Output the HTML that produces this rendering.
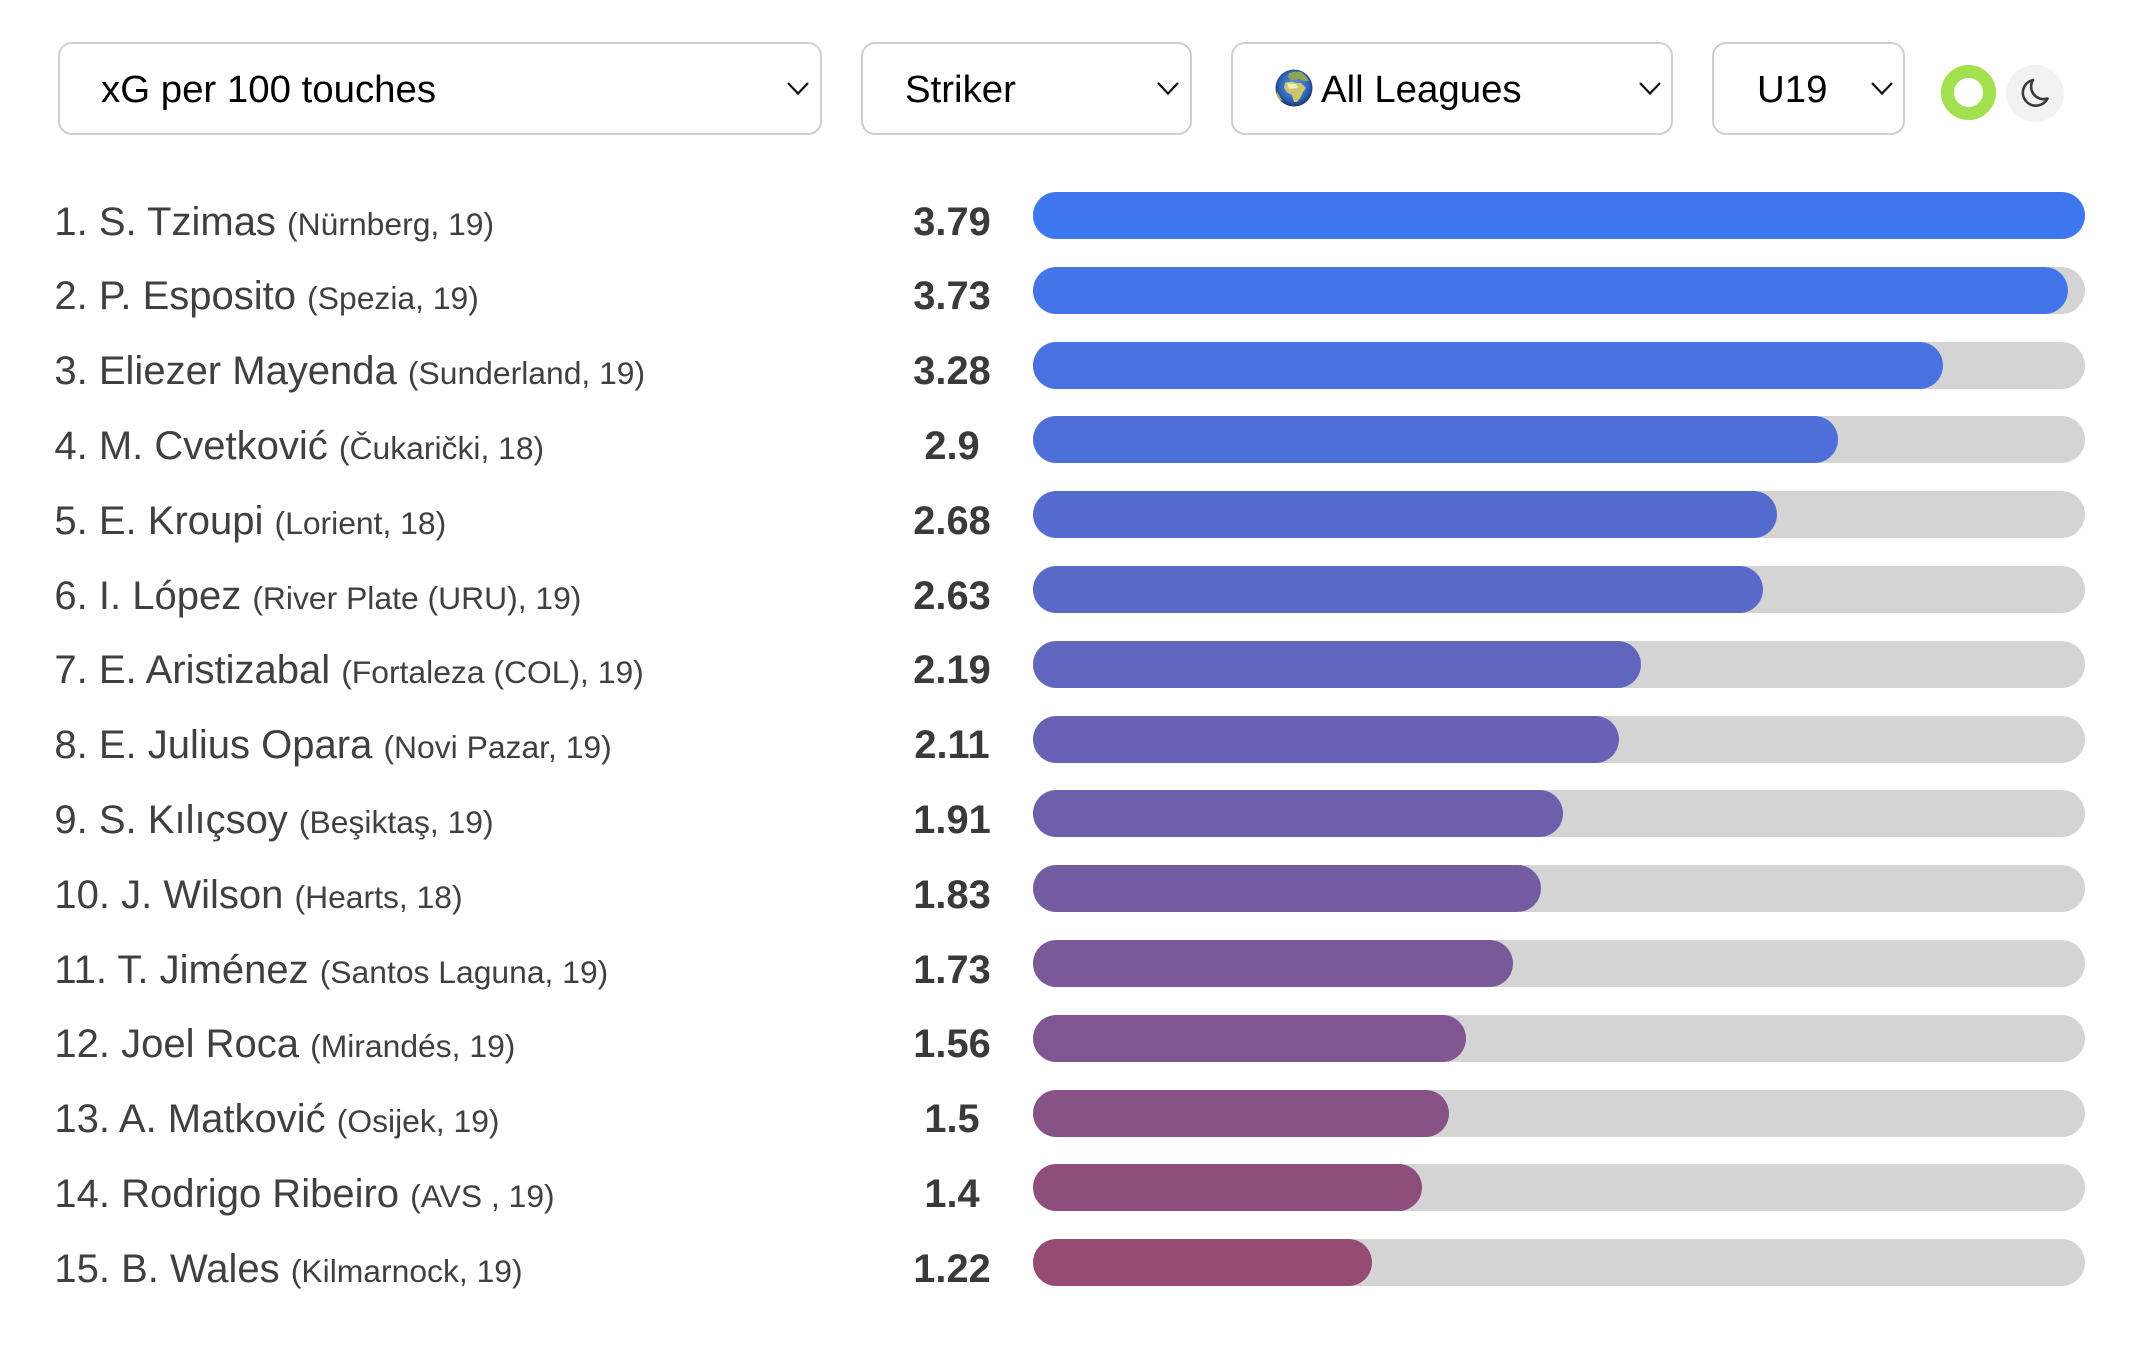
<!DOCTYPE html>
<html lang="en">
<head>
<meta charset="utf-8">
<title>xG per 100 touches ranking</title>
<style>
  html, body { margin: 0; padding: 0; background: #fff; }
  body { width: 2152px; height: 1346px; position: relative; overflow: hidden;
         font-family: "Liberation Sans", Arial, sans-serif; color: #404040; }
  .select { position: absolute; top: 42px; height: 93px; box-sizing: border-box;
            border: 2.5px solid #cfcfcf; border-radius: 14px; background: #fff; }
  .select-label { position: absolute; top: 68px; height: 44px; line-height: 44px; font-size: 38.4px;
                  color: #000; white-space: nowrap; }
  .chevron { position: absolute; top: 80px; width: 26px; height: 18px; }
  .row-label { position: absolute; left: 54.4px; height: 46px; line-height: 46px; font-size: 40px;
               white-space: nowrap; color: #404040; }
  .row-label small { font-size: 31.85px; }
  .row-value { position: absolute; left: 852px; width: 200px; text-align: center; height: 46px; line-height: 46px;
               font-size: 39.8px; font-weight: bold; color: #3a3a3a; }
  .track { position: absolute; height: 47px; background: #d4d4d4; border-radius: 24px; }
  .bar { position: absolute; height: 47px; border-radius: 24px; }
</style>
</head>
<body>

<div class="select" style="left:57.5px;width:764.5px"></div>
<div class="select-label" style="left:101px">xG per 100 touches</div>
<svg class="chevron" style="left:785px" viewBox="0 0 26 18"><path d="M3 3 L13 13.5 L23 3" fill="none" stroke="#111" stroke-width="2.2"/></svg>

<div class="select" style="left:860.5px;width:331px"></div>
<div class="select-label" style="left:905px">Striker</div>
<svg class="chevron" style="left:1155px" viewBox="0 0 26 18"><path d="M3 3 L13 13.5 L23 3" fill="none" stroke="#111" stroke-width="2.2"/></svg>

<div class="select" style="left:1230.5px;width:442px"></div>
<svg style="position:absolute;left:1275px;top:68.5px" width="38" height="38" viewBox="0 0 38 38">
  <defs>
    <radialGradient id="globe-fill" cx="50%" cy="45%" r="55%">
      <stop offset="0" stop-color="#5f9fe6"/>
      <stop offset="0.72" stop-color="#2f62b8"/>
      <stop offset="1" stop-color="#1b336c"/>
    </radialGradient>
  </defs>
  <circle cx="19" cy="19" r="18.5" fill="url(#globe-fill)"/>
  <path d="M14 4 L20 2.5 L26 3 L31 7 L34 12 L29 12 L24 10 L20 11 L16 11 L13 8 Z" fill="#8fa455"/>
  <path d="M10 13.5 L17 12.5 L21 14 L26 14 L29 17 L31 19 L28 23 L26 28 L22 33 L19 33 L17 26 L12 23.5 L9 19 Z" fill="#c9c66f"/>
  <path d="M12 14.5 L21 15 L23 19 L14 20 Z" fill="#f1edb8"/>
  <path d="M2 22 L5 28 L8 32 L5 31 L2 27 Z" fill="#a9a85c"/>
</svg>
<div class="select-label" style="left:1321px">All Leagues</div>
<svg class="chevron" style="left:1637px" viewBox="0 0 26 18"><path d="M3 3 L13 13.5 L23 3" fill="none" stroke="#111" stroke-width="2.2"/></svg>

<div class="select" style="left:1712px;width:193px"></div>
<div class="select-label" style="left:1757px">U19</div>
<svg class="chevron" style="left:1868.5px" viewBox="0 0 26 18"><path d="M3 3 L13 13.5 L23 3" fill="none" stroke="#111" stroke-width="2.2"/></svg>

<div style="position:absolute;left:1941px;top:65px;width:55px;height:55px;box-sizing:border-box;border:13px solid #a3e04e;border-radius:50%;background:#fff"></div>
<div style="position:absolute;left:2006px;top:65px;width:58px;height:57px;border-radius:50%;background:#f2f2f2"></div>
<svg style="position:absolute;left:2005px;top:65px" width="60" height="60" viewBox="0 0 60 60"><path d="M28 15 A13 13 0 1 0 42.5 33.5 A12.5 12.5 0 0 1 28 15 Z" fill="none" stroke="#3a3a3a" stroke-width="2.6" stroke-linejoin="round"/></svg>

<div id="chart"></div>

<script>
const players = ["S. Tzimas", "P. Esposito", "Eliezer Mayenda", "M. Cvetković", "E. Kroupi", "I. López", "E. Aristizabal", "E. Julius Opara", "S. Kılıçsoy", "J. Wilson", "T. Jiménez", "Joel Roca", "A. Matković", "Rodrigo Ribeiro", "B. Wales"];
const clubs = ["Nürnberg", "Spezia", "Sunderland", "Čukarički", "Lorient", "River Plate (URU)", "Fortaleza (COL)", "Novi Pazar", "Beşiktaş", "Hearts", "Santos Laguna", "Mirandés", "Osijek", "AVS ", "Kilmarnock"];
const ages = [19, 19, 19, 18, 18, 19, 19, 19, 19, 18, 19, 19, 19, 19, 19];
const xgValues = [3.79, 3.73, 3.28, 2.9, 2.68, 2.63, 2.19, 2.11, 1.91, 1.83, 1.73, 1.56, 1.5, 1.4, 1.22];

const axisMax = 3.79;
const trackLeft = 1033;
const trackWidth = 1052;
const firstRowTop = 192;
const rowStep = 74.8;
const textOffset = 6.5;
const colorStart = [62, 119, 240];
const colorEnd = [149, 75, 114];

function xScale(value) {
  return value / axisMax * trackWidth;
}
function yScale(index) {
  return firstRowTop + index * rowStep;
}
function rowColor(index) {
  const t = Math.pow(index / (players.length - 1), 1.1);
  const c = colorStart.map(function (s, k) { return Math.round(s + (colorEnd[k] - s) * t); });
  return 'rgb(' + c.join(',') + ')';
}

const chart = document.getElementById('chart');
players.forEach(function (player, i) {
  const top = yScale(i);

  const label = document.createElement('div');
  label.className = 'row-label';
  
  
  label.style.top = (top + textOffset) + 'px';
  label.appendChild(document.createTextNode((i + 1) + '. ' + player + ' '));
  const detail = document.createElement('small');
  
  
  detail.textContent = '(' + clubs[i] + ', ' + ages[i] + ')';
  label.appendChild(detail);
  chart.appendChild(label);

  const val = document.createElement('div');
  val.className = 'row-value';
  
  
  val.style.top = (top + textOffset) + 'px';
  val.textContent = String(xgValues[i]);
  chart.appendChild(val);

  const track = document.createElement('div');
  track.className = 'track';
  
  
  track.style.left = trackLeft + 'px';
  track.style.top = top + 'px';
  track.style.width = trackWidth + 'px';
  chart.appendChild(track);

  const bar = document.createElement('div');
  bar.className = 'bar';
  
  
  bar.style.left = trackLeft + 'px';
  bar.style.top = top + 'px';
  bar.style.width = xScale(xgValues[i]) + 'px';
  bar.style.background = rowColor(i);
  chart.appendChild(bar);
});
</script>
</body>
</html>
